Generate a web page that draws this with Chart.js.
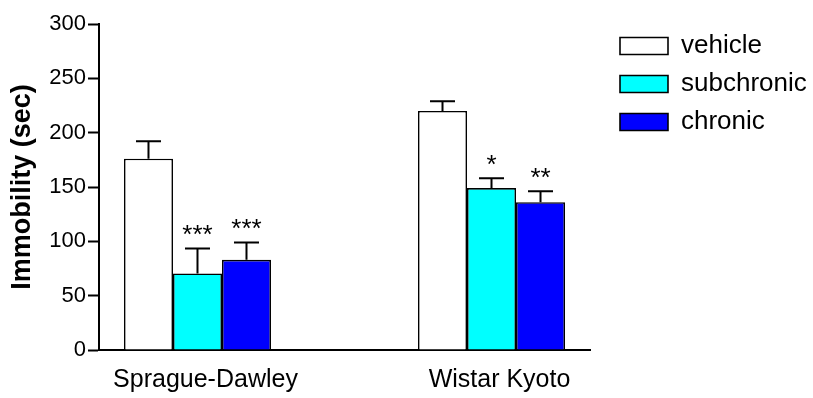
<!DOCTYPE html>
<html>
<head>
<meta charset="utf-8">
<script src="https://cdn.jsdelivr.net/npm/chart.js@4.4.1/dist/chart.umd.min.js"></script>
<style>
  html, body { margin: 0; padding: 0; background: #fff; }
  #wrap { width: 813px; height: 398px; }
</style>
</head>
<body>
<div id="wrap"><canvas id="c"></canvas></div>
<script>
// Data
const categories = ["Sprague-Dawley", "Wistar Kyoto"];
const vehicle = [176, 220];
const vehicleErr = [16, 9];
const subchronic = [70.5, 149];
const subchronicErr = [23, 9];
const chronic = [83, 136];
const chronicErr = [16, 10];
const vehicleStars = ["", ""];
const subchronicStars = ["***", "*"];
const chronicStars = ["***", "**"];
const yTicks = [0, 50, 100, 150, 200, 250, 300];

const FONT = "'Liberation Sans', Arial, Helvetica, sans-serif";

// points on a linear x axis: category i sits at x = i + 1
const toPoints = (vals) => vals.map((v, i) => ({ x: i + 1, y: v }));

// upper-only error bars and significance stars
const errorBars = {
  id: "errorBars",
  afterDatasetsDraw(chart) {
    const { ctx } = chart;
    const y = chart.scales.y;
    chart.data.datasets.forEach((ds, di) => {
      const meta = chart.getDatasetMeta(di);
      meta.data.forEach((bar, i) => {
        const top = y.getPixelForValue(ds.data[i].y + ds.err[i]);
        ctx.save();
        ctx.strokeStyle = "#000";
        ctx.lineWidth = 2;
        ctx.beginPath();
        ctx.moveTo(bar.x, bar.y);
        ctx.lineTo(bar.x, top);
        ctx.moveTo(bar.x - 12.5, top);
        ctx.lineTo(bar.x + 12.5, top);
        ctx.stroke();
        if (ds.stars[i]) {
          ctx.fillStyle = "#000";
          ctx.font = "26px " + FONT;
          ctx.textAlign = "center";
          ctx.textBaseline = "alphabetic";
          ctx.fillText(ds.stars[i], bar.x, top - 5);
        }
        ctx.restore();
      });
    });
  },
};

// nudge the legend away from the end of the x axis
const legendNudge = {
  id: "legendNudge",
  afterLayout(chart) {
    const lg = chart.legend;
    const dx = 608 - lg.left;
    lg.left += dx;
    lg.right += dx;
    lg.top -= 3;
    lg.bottom -= 3;
  },
};

new Chart(document.getElementById("c"), {
  type: "bar",
  data: {
    datasets: [
      {
        label: "vehicle",
        data: toPoints(vehicle),
        err: vehicleErr,
        stars: vehicleStars,
        backgroundColor: "#ffffff",
        borderColor: "#000",
        borderWidth: 1.6,
      },
      {
        label: "subchronic",
        data: toPoints(subchronic),
        err: subchronicErr,
        stars: subchronicStars,
        backgroundColor: "#00ffff",
        borderColor: "#000",
        borderWidth: 1.6,
      },
      {
        label: "chronic",
        data: toPoints(chronic),
        err: chronicErr,
        stars: chronicStars,
        backgroundColor: "#0000ff",
        borderColor: "#000",
        borderWidth: 1.6,
      },
    ],
  },
  options: {
    responsive: true,
    maintainAspectRatio: false,
    animation: false,
    categoryPercentage: 0.5,
    barPercentage: 1.0,
    layout: { padding: { left: 6, top: 24, right: 0, bottom: 4 } },
    scales: {
      x: {
        type: "linear",
        offset: false,
        min: 0.665,
        max: 2.335,
        grid: { display: false, drawTicks: false },
        border: { display: true, color: "#000", width: 2 },
        afterBuildTicks: (s) => {
          s.ticks = categories.map((_, i) => ({ value: i + 1 }));
        },
        afterFit: (s) => {
          s.paddingRight = 223;
          s.height = 44;
        },
        ticks: {
          color: "#000",
          font: { family: FONT, size: 25 },
          padding: 15,
          labelOffset: 8,
          maxRotation: 0,
          autoSkip: false,
          callback: (v) => categories[v - 1] || "",
        },
      },
      y: {
        min: 0,
        max: 300,
        afterBuildTicks: (s) => {
          s.ticks = yTicks.map((v) => ({ value: v }));
        },
        afterFit: (s) => {
          s.width = 93;
        },
        grid: {
          drawOnChartArea: false,
          drawTicks: true,
          tickLength: 11,
          tickColor: "#000",
          tickWidth: 2,
        },
        border: { display: true, color: "#000", width: 2 },
        ticks: {
          color: "#000",
          font: { family: FONT, size: 22 },
          padding: 2,
        },
        title: {
          display: true,
          text: "Immobility (sec)",
          color: "#000",
          font: { family: FONT, size: 27, weight: "bold" },
          padding: 0,
        },
      },
    },
    plugins: {
      legend: {
        position: "right",
        align: "start",
        labels: {
          color: "#000",
          font: { family: FONT, size: 26 },
          boxWidth: 48,
          boxHeight: 17,
          padding: 12,
        },
      },
      tooltip: { enabled: false },
    },
  },
  plugins: [errorBars, legendNudge],
});
</script>
</body>
</html>
